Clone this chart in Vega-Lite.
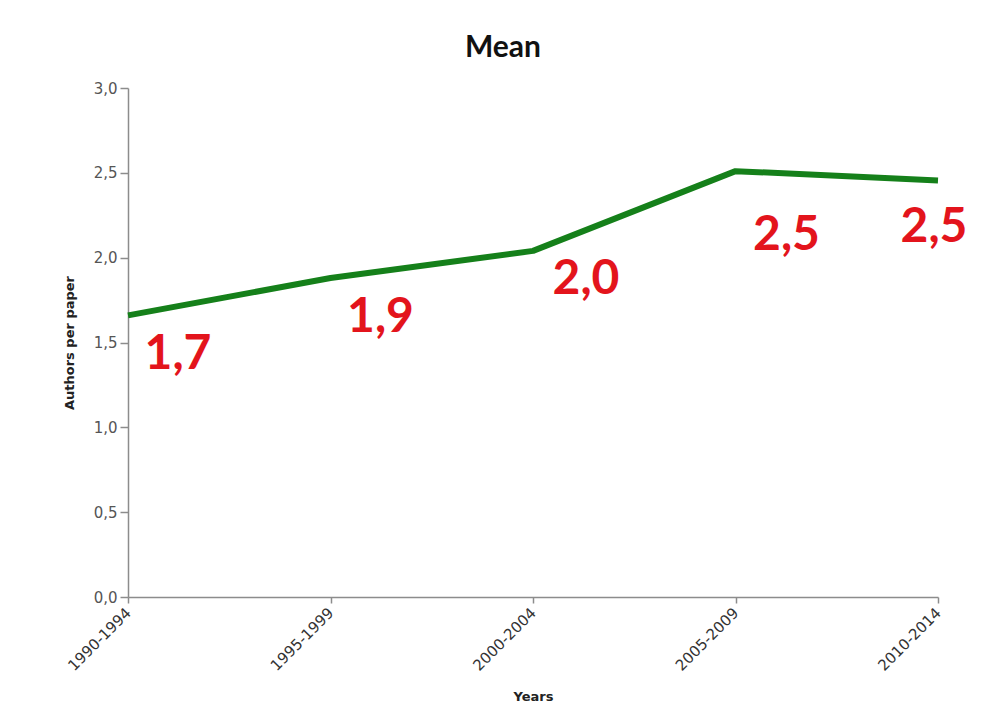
{
  "$schema": "https://vega.github.io/schema/vega-lite/v6.json",
  "autosize": "none",
  "width": 810,
  "height": 509,
  "padding": {"left": 128, "top": 88, "right": 52, "bottom": 127},
  "background": "white",
  "config": {
    "locale": {"number": {"decimal": ",", "thousands": ".", "grouping": [3], "currency": ["", " €"]}},
    "view": {"stroke": null},
    "axis": {"grid": false, "domainColor": "#8c8c8c", "tickColor": "#8c8c8c", "domainWidth": 1.5, "tickWidth": 1.5}
  },
  "title": {
    "text": "Mean",
    "font": "Lato",
    "fontSize": 30,
    "fontWeight": "bold",
    "color": "#111111",
    "anchor": "middle",
    "dx": -30,
    "offset": 18
  },
  "data": {
    "values": [
      {"period": "1990-1994", "mean": 1.66},
      {"period": "1995-1999", "mean": 1.88},
      {"period": "2000-2004", "mean": 2.04},
      {"period": "2005-2009", "mean": 2.51},
      {"period": "2010-2014", "mean": 2.455}
    ]
  },
  "encoding": {
    "x": {
      "field": "period",
      "type": "ordinal",
      "scale": {"type": "point", "padding": 0},
      "axis": {
        "title": "Years",
        "titleFont": "DejaVu Sans",
        "titleFontSize": 13,
        "titleFontWeight": "bold",
        "titleColor": "#222222",
        "titlePadding": 17,
        "labelAngle": -45,
        "labelAlign": "right",
        "labelBaseline": "middle",
        "labelFont": "DejaVu Sans",
        "labelFontSize": 15,
        "labelColor": "#333333",
        "labelPadding": 7,
        "tickSize": 6
      }
    },
    "y": {
      "field": "mean",
      "type": "quantitative",
      "scale": {"domain": [0, 3]},
      "axis": {
        "title": "Authors per paper",
        "titleFont": "DejaVu Sans",
        "titleFontSize": 13,
        "titleFontWeight": "bold",
        "titleColor": "#222222",
        "titlePadding": 17,
        "values": [0, 0.5, 1, 1.5, 2, 2.5, 3],
        "format": ".1f",
        "labelFont": "DejaVu Sans",
        "labelFontSize": 15,
        "labelColor": "#555555",
        "labelPadding": 3,
        "tickSize": 8
      }
    }
  },
  "layer": [
    {
      "mark": {"type": "line", "color": "#15801a", "strokeWidth": 6, "strokeJoin": "round", "strokeCap": "butt"}
    },
    {
      "transform": [{"filter": "datum.period === '1990-1994' || datum.period === '1995-1999'"}],
      "mark": {"type": "text", "font": "Lato", "fontSize": 48, "fontWeight": "bold", "color": "#e3141c", "align": "center", "baseline": "middle", "dx": 50, "dy": 40},
      "encoding": {"text": {"field": "mean", "type": "quantitative", "format": ".1f"}}
    },
    {
      "transform": [{"filter": "datum.period === '2000-2004'"}],
      "mark": {"type": "text", "font": "Lato", "fontSize": 48, "fontWeight": "bold", "color": "#e3141c", "align": "center", "baseline": "middle", "dx": 53, "dy": 29},
      "encoding": {"text": {"field": "mean", "type": "quantitative", "format": ".1f"}}
    },
    {
      "transform": [{"filter": "datum.period === '2005-2009'"}],
      "mark": {"type": "text", "font": "Lato", "fontSize": 48, "fontWeight": "bold", "color": "#e3141c", "align": "center", "baseline": "middle", "dx": 51, "dy": 65},
      "encoding": {"text": {"field": "mean", "type": "quantitative", "format": ".1f"}}
    },
    {
      "transform": [{"filter": "datum.period === '2010-2014'"}],
      "mark": {"type": "text", "font": "Lato", "fontSize": 48, "fontWeight": "bold", "color": "#e3141c", "align": "center", "baseline": "middle", "dx": -4, "dy": 48},
      "encoding": {"text": {"field": "mean", "type": "quantitative", "format": ".1f"}}
    }
  ]
}
